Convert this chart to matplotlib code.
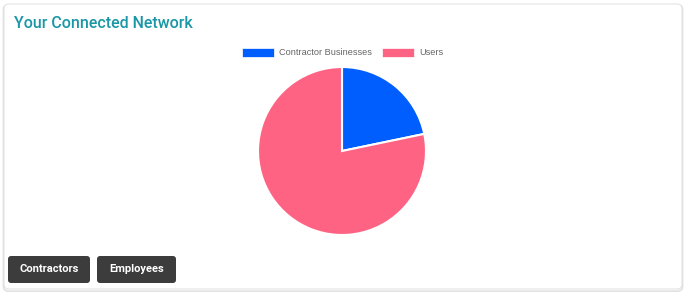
import matplotlib.pyplot as plt
from matplotlib.patches import FancyBboxPatch, Rectangle

# data
labels = ['Contractor Businesses', 'Users']
values = [5, 18]
colors = ['#005EFF', '#FF6384']
buttons = ['Contractors', 'Employees']

W, H = 688, 300
fig = plt.figure(figsize=(W / 100, H / 100), dpi=100)
fig.patch.set_facecolor('white')

# overlay in pixel coords for card, title, legend, buttons
bg = fig.add_axes([0, 0, 1, 1])
bg.set_xlim(0, W)
bg.set_ylim(H, 0)
bg.axis('off')

# card with soft shadow
for i, a in enumerate([0.04, 0.06, 0.09]):
    bg.add_patch(FancyBboxPatch((4 - i * 0.5, 4 + 1.5 - i * 0.5), 678 + i, 285 + i,
                                boxstyle='round,pad=0,rounding_size=5',
                                fc='none', ec=(0, 0, 0, a), lw=1.2 - i * 0.3))
bg.add_patch(FancyBboxPatch((4, 4), 678, 285, boxstyle='round,pad=0,rounding_size=5',
                            fc='white', ec='#e4e4e4', lw=0.8))

bg.text(14, 24, 'Your Connected Network', color='#1997A6', fontsize=11.5,
        family='Roboto', fontweight='medium', va='center', ha='left')

# legend
lx = 242
for lab, col in zip(labels, colors):
    bg.add_patch(Rectangle((lx, 48), 32, 9, fc=col, ec='white', lw=0.5))
    t = bg.text(lx + 37, 52.5, lab, color='#666666', fontsize=6.6, family='Liberation Sans',
                va='center', ha='left')
    fig.canvas.draw()
    bb = t.get_window_extent()
    lx = lx + 37 + bb.width + 10

# buttons
bx = 8
for b in buttons:
    w = 82 if b == 'Contractors' else 79
    bg.add_patch(FancyBboxPatch((bx, 256), w, 27, boxstyle='round,pad=0,rounding_size=3',
                                fc='#3c3c3c', ec='none'))
    bg.text(bx + w / 2, 269.5, b, color='white', fontsize=8, fontweight='bold',
            family='Roboto', ha='center', va='center')
    bx += w + 7

# pie
cx, cy, r = 342, 151, 84
ax = fig.add_axes([(cx - r) / W, (H - cy - r) / H, 2 * r / W, 2 * r / H])
ax.pie(values, colors=colors, startangle=90, counterclock=False,
       wedgeprops=dict(edgecolor='white', linewidth=1.5))
ax.set_xlim(-1, 1)
ax.set_ylim(-1, 1)
ax.set_aspect('equal')
ax.axis('off')

fig.savefig('out.png', dpi=100)
